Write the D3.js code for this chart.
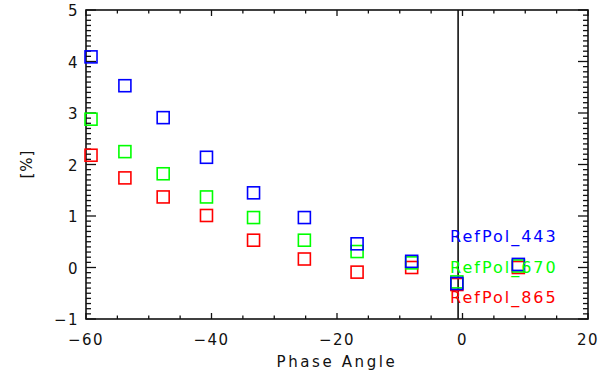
<!DOCTYPE html>
<html><head><meta charset="utf-8">
<script src="https://cdn.jsdelivr.net/npm/d3@7"></script>
<style>
body{margin:0;background:#fff;}
svg text{font-family:"DejaVu Sans",sans-serif;fill:#111;}
</style></head>
<body><svg id="c" width="600" height="375"></svg>
<script>
const phaseAngles = [-59.2, -53.8, -47.7, -40.8, -33.3, -25.2, -16.8, -8.1, -0.9, 8.9];
const refPol443 = [4.09, 3.53, 2.91, 2.14, 1.45, 0.97, 0.46, 0.12, -0.31, 0.06];
const refPol670 = [2.88, 2.25, 1.82, 1.37, 0.97, 0.53, 0.31, 0.09, -0.28, 0.03];
const refPol865 = [2.18, 1.74, 1.37, 1.01, 0.53, 0.165, -0.09, 0.0, -0.33, 0.0];
const xTicks = [-60, -40, -20, 0, 20];
const yTicks = [-1, 0, 1, 2, 3, 4, 5];
const seriesNames = ["RefPol_443", "RefPol_670", "RefPol_865"];
const seriesColors = ["#0000ff", "#00ff00", "#ff0000"];
const verticalLineX = -0.7;

const svg = d3.select("#c");
const L = 86, R = 588, T = 10, B = 319;
const x = d3.scaleLinear().domain([-60, 20]).range([L, R]);
const y = d3.scaleLinear().domain([-1, 5]).range([B, T]);

const g = svg.append("g");
// minor ticks
const xMinor = d3.range(-60, 20.001, 5);
const yMinor = d3.range(-1, 5.0001, 0.1).map(v => +v.toFixed(2));
const isMajor = (v, arr) => arr.some(t => Math.abs(t - v) < 1e-6);

function tickLines(vals, major, fn) {
  vals.forEach(v => fn(v, isMajor(v, major)));
}
const tk = g.append("g").attr("stroke", "#111").attr("stroke-width", 1.3);
tickLines(xMinor, xTicks, (v, m) => {
  const len = m ? 6 : 3.5;
  tk.append("line").attr("x1", x(v)).attr("x2", x(v)).attr("y1", B).attr("y2", B - len);
  tk.append("line").attr("x1", x(v)).attr("x2", x(v)).attr("y1", T).attr("y2", T + len);
});
tickLines(yMinor, yTicks, (v, m) => {
  const len = m ? 10 : 5;
  tk.append("line").attr("y1", y(v)).attr("y2", y(v)).attr("x1", L).attr("x2", L + len);
  tk.append("line").attr("y1", y(v)).attr("y2", y(v)).attr("x1", R).attr("x2", R - len);
});

// frame
g.append("rect").attr("x", L).attr("y", T).attr("width", R - L).attr("height", B - T)
  .attr("fill", "none").attr("stroke", "#111").attr("stroke-width", 1.6);

// vertical line
g.append("line").attr("x1", x(verticalLineX)).attr("x2", x(verticalLineX))
  .attr("y1", T).attr("y2", B).attr("stroke", "#111").attr("stroke-width", 1.6);

// tick labels
g.selectAll(".xl").data(xTicks).enter().append("text")
  .attr("x", d => x(d)).attr("y", 345).attr("text-anchor", "middle")
  .attr("font-size", 15).attr("letter-spacing", 1.5)
  .text(d => d < 0 ? "\u2212" + Math.abs(d) : d);
g.selectAll(".yl").data(yTicks).enter().append("text")
  .attr("x", 79).attr("y", d => y(d) + 6).attr("text-anchor", "end")
  .attr("font-size", 15).attr("letter-spacing", 1.5)
  .text(d => d < 0 ? "\u2212" + Math.abs(d) : d);

// axis titles
g.append("text").attr("x", (L + R) / 2).attr("y", 367).attr("text-anchor", "middle")
  .attr("font-size", 15).attr("letter-spacing", 2.6).text("Phase Angle");
g.append("text").attr("transform", "translate(32,164) rotate(-90)").attr("text-anchor", "middle")
  .attr("font-size", 15).attr("letter-spacing", 1).text("[%]");

// markers
const all = [refPol865, refPol670, refPol443];
const cols = [seriesColors[2], seriesColors[1], seriesColors[0]];
const s = 12;
all.forEach((vals, i) => {
  g.append("g").selectAll("rect").data(vals).enter().append("rect")
    .attr("x", (d, j) => x(phaseAngles[j]) - s / 2)
    .attr("y", d => y(d) - s / 2)
    .attr("width", s).attr("height", s)
    .attr("fill", "none").attr("stroke", cols[i]).attr("stroke-width", 1.6);
});

// legend labels
const legendY = [242, 273, 303];
seriesNames.forEach((n, i) => {
  g.append("text").attr("x", 450).attr("y", legendY[i])
    .attr("font-size", 16).attr("letter-spacing", 2)
    .style("fill", seriesColors[i]).text(n);
});
</script></body></html>
